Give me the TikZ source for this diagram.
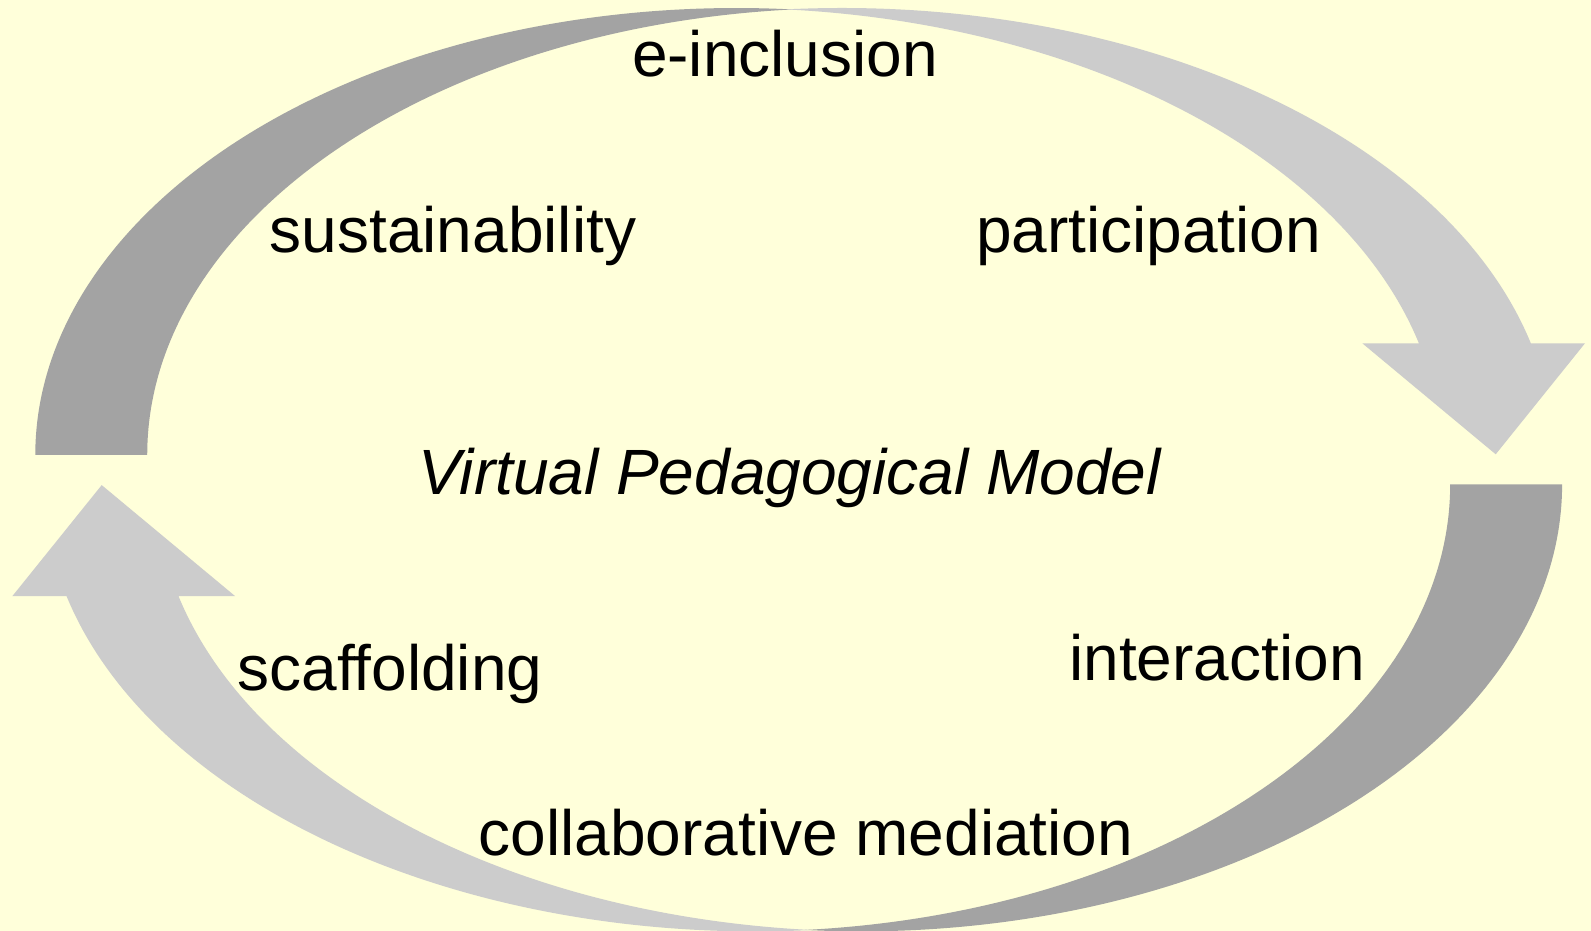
\documentclass[tikz,border=0pt]{standalone}
\usepackage{fontspec}
\setmainfont{Liberation Sans}
\definecolor{bg}{HTML}{FFFFDA}
\definecolor{darkband}{HTML}{A3A3A3}
\definecolor{lightband}{HTML}{CCCCCC}
\begin{document}
\begin{tikzpicture}[x=0.5pt,y=0.5pt,
  lbl/.style={font=\fontsize{32}{38}\selectfont, anchor=base, inner sep=0pt}]
\fill[bg] (0,0) rectangle (1591,931);
\useasboundingbox (0,0) rectangle (1591,931);
\foreach \r in {0,180} {
  \begin{scope}[rotate around={\r:(798.7,461.3)}]
    \fill[darkband] (35.3,476)
      arc[start angle=180,end angle=85.42,x radius=701,y radius=447]
      arc[start angle=94.58,end angle=180,x radius=701,y radius=447] -- cycle;
    \fill[lightband] (785.7,921.6)
      arc[start angle=94.51,end angle=14.47,x radius=711.8,y radius=447]
      -- (1585,587.7) -- (1495.7,476.7) -- (1362.3,587.7) -- (1418.9,587.7)
      arc[start angle=14.47,end angle=85.49,x radius=711.8,y radius=447] -- cycle;
  \end{scope}
}
\node[lbl] (einc) at (785,854.3) {e-inclusion};
\node[lbl] (sust) at (453,678.4) {sustainability};
\node[lbl] (part) at (1148.6,678.4) {participation};
\node[lbl,font=\fontsize{32}{38}\selectfont\itshape] (vpm) at (789.5,436) {Virtual Pedagogical Model};
\node[lbl] (scaf) at (390,240) {scaffolding};
\node[lbl] (inter) at (1217,250) {interaction};
\node[lbl] (collab) at (806,75) {collaborative mediation};
\end{tikzpicture}
\end{document}
